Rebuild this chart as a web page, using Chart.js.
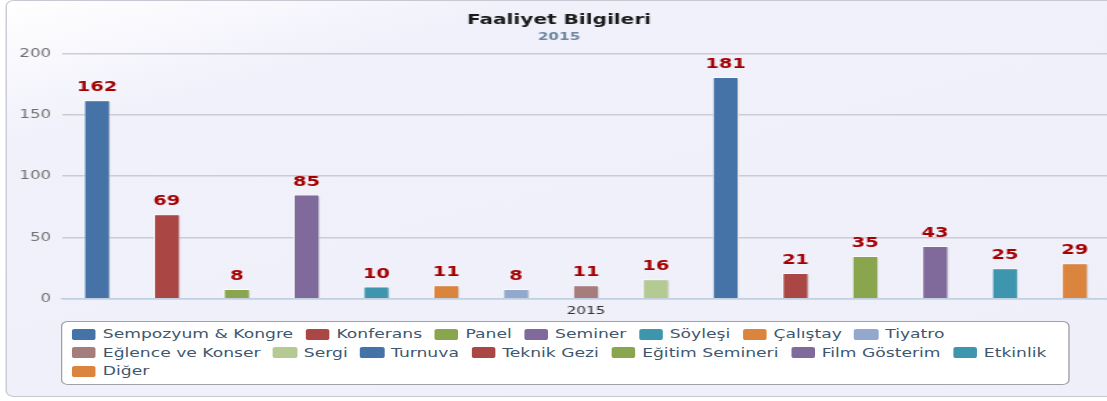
<!DOCTYPE html>
<html lang="tr">
<head>
<meta charset="utf-8">
<title>Faaliyet Bilgileri</title>
<script src="https://cdn.jsdelivr.net/npm/chart.js@4.4.0/dist/chart.umd.min.js"></script>
<style>
	html, body { margin: 0; padding: 0; width: 1107px; height: 401px; overflow: hidden; background: #fff; }
	#stage { position: absolute; left: 0; top: 0; width: 811px; height: 401px; transform: scaleX(1.38375); transform-origin: 0 0; }
	#frame { position: absolute; left: 4px; top: 0; width: 830px; height: 397px; box-sizing: border-box; border: 1px solid #c8c8d2; border-radius: 6px; background: linear-gradient(160deg, #ffffff 0%, #f1f1fb 20%, #efeffa 100%); }
	#chart { position: absolute; left: 0; top: 0; }
	#legend { position: absolute; left: 44px; top: 321px; width: 728.5px; height: 64px; box-sizing: border-box; border: 1px solid #a0a0a8; border-radius: 5px; background: #fff; padding: 3px 0 0 7px; display: flex; flex-wrap: wrap; column-gap: 9px; align-content: flex-start; font: 12.4px "DejaVu Sans", sans-serif; color: #3e576f; line-height: 18.5px; }
	#legend .item { display: inline-flex; align-items: center; white-space: nowrap; height: 18.5px; }
	#legend .item i { display: inline-block; width: 17.3px; height: 11px; border-radius: 2px; margin-right: 5px; }
</style>
</head>
<body>
<div id="stage">
	<div id="frame"></div>
	<canvas id="chart" width="811" height="401"></canvas>
	<div id="legend"></div>
</div>
<script>
"use strict"

const categories = ["2015"]
const seriesNames = [
	"Sempozyum & Kongre", "Konferans", "Panel", "Seminer", "Söyleşi", "Çalıştay", "Tiyatro",
	"Eğlence ve Konser", "Sergi", "Turnuva", "Teknik Gezi", "Eğitim Semineri", "Film Gösterim", "Etkinlik", "Diğer",
]
const seriesValues = [162, 69, 8, 85, 10, 11, 8, 11, 16, 181, 21, 35, 43, 25, 29]
const palette = ["#4572A7", "#AA4643", "#89A54E", "#80699B", "#3D96AE", "#DB843D", "#92A8CD", "#A47D7C", "#B5CA92"]

const font = "'DejaVu Sans', sans-serif"

// soft shadow behind the bars
const barShadow = {
	id: "barShadow",
	beforeDatasetsDraw(chart) {
		let ctx = chart.ctx
		ctx.save()
		ctx.shadowColor = "rgba(0, 0, 0, 0.16)"
		ctx.shadowOffsetX = 1.5
		ctx.shadowOffsetY = 1
		ctx.shadowBlur = 2
	},
	afterDatasetsDraw(chart) {
		chart.ctx.restore()
	},
}

// value above each bar
const valueLabels = {
	id: "valueLabels",
	afterDatasetsDraw(chart) {
		let ctx = chart.ctx
		ctx.save()
		ctx.font = `bold 14px ${font}`
		ctx.fillStyle = "#a50000"
		ctx.textAlign = "center"
		ctx.textBaseline = "alphabetic"
		chart.data.datasets.forEach((ds, i) => {
			chart.getDatasetMeta(i).data.forEach((bar, j) => {
				ctx.fillText(ds.data[j], bar.x, bar.y - 9)
			})
		})
		ctx.restore()
	},
}

let chart = new Chart(document.getElementById("chart").getContext("2d"), {
	type: "bar",
	data: {
		labels: categories,
		datasets: seriesNames.map((name, i) => ({
			label: name,
			data: [seriesValues[i]],
			backgroundColor: palette[i % palette.length],
			borderColor: "rgba(255, 255, 255, 0.85)",
			borderWidth: 1,
			categoryPercentage: 1,
			barPercentage: 0.38,
		})),
	},
	options: {
		responsive: false,
		animation: false,
		layout: { padding: { left: 6, right: 9, top: 0, bottom: 77 } },
		plugins: {
			legend: { display: false },
			tooltip: { enabled: false },
			title: {
				display: true,
				text: "Faaliyet Bilgileri",
				color: "#1a1a1a",
				font: { family: font, size: 14.5, weight: "bold" },
				padding: { top: 12, bottom: 0 },
			},
			subtitle: {
				display: true,
				text: "2015",
				color: "#6d869f",
				font: { family: font, size: 11, weight: "bold" },
				padding: { top: 1, bottom: 10 },
			},
		},
		scales: {
			x: {
				grid: { display: false, drawTicks: false },
				border: { display: true, color: "#c0d0e0", width: 1.5 },
				ticks: { color: "#333", font: { family: font, size: 11 }, padding: 6 },
			},
			y: {
				min: 0,
				max: 200,
				ticks: { stepSize: 50, color: "#707070", font: { family: font, size: 12 }, padding: 8 },
				grid: {
					drawTicks: false,
					lineWidth: 1.5,
					color: (c) => (c.tick && c.tick.value === 0 ? "#c0d0e0" : "#cbcbd3"),
				},
				border: { display: false },
			},
		},
	},
	plugins: [barShadow, valueLabels],
})

const legendBox = document.getElementById("legend")
chart.data.datasets.forEach((ds) => {
	let item = document.createElement("span")
	item.className = "item"
	let swatch = document.createElement("i")
	swatch.style.background = ds.backgroundColor
	item.appendChild(swatch)
	item.appendChild(document.createTextNode(ds.label))
	legendBox.appendChild(item)
})
</script>
</body>
</html>
